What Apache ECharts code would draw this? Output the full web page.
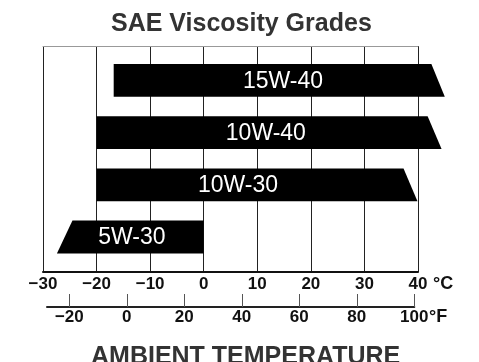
<!DOCTYPE html>
<html>
<head>
<meta charset="utf-8">
<script src="https://cdn.jsdelivr.net/npm/echarts@6/dist/echarts.min.js"></script>
<style>
html,body{margin:0;padding:0;background:#fff;}
#chart{width:479px;height:362px;}
</style>
</head>
<body>
<div id="chart"></div>
<script>
const grades = ['15W-40', '10W-40', '10W-30', '5W-30'];
const lowTop = [-16.8, -20, -20, -24.5];
const lowBottom = [-16.8, -20, -20, -27.4];
const highTop = [42.5, 41.8, 37.3, 0];
const highBottom = [45, 44.4, 39.9, 0];
const labelAt = [14.8, 11.6, 6.4, -13.4];
const celsiusTicks = [-30, -20, -10, 0, 10, 20, 30, 40];
const fahrenheitTicks = [-20, 0, 20, 40, 60, 80, 100];

const fmt = v => (v < 0 ? '\u2212' + Math.abs(v) : String(v));
const FONT = 'Liberation Sans, Arial, Helvetica, sans-serif';

const data = grades.map((g, i) => [i, lowTop[i], lowBottom[i], highTop[i], highBottom[i], labelAt[i], g]);

const chart = echarts.init(document.getElementById('chart'), null, {renderer: 'canvas'});
chart.setOption({
  animation: false,
  backgroundColor: '#fff',
  title: [
    {text: 'SAE Viscosity Grades', left: 111, top: 12, padding: 0,
     textStyle: {fontFamily: FONT, fontSize: 25, fontWeight: 'bold', color: '#333'}},
    {text: 'AMBIENT TEMPERATURE', left: 91, top: 345, padding: 0,
     textStyle: {fontFamily: FONT, fontSize: 25, fontWeight: 'bold', color: '#333'}}
  ],
  grid: [
    {left: 43, right: 61, top: 46, bottom: 90},
    {left: 47, right: 64.7, top: 293, height: 14}
  ],
  xAxis: [
    {type: 'value', gridIndex: 0, min: -30, max: 40, interval: 10, position: 'bottom',
     axisLine: {show: true, onZero: false, lineStyle: {color: '#111', width: 2}},
     axisTick: {show: false},
     axisLabel: {show: true, margin: 4, formatter: fmt,
       customValues: celsiusTicks,
       fontFamily: FONT, fontSize: 17, fontWeight: 'bold', color: '#111'},
     splitLine: {show: true, lineStyle: {color: '#222', width: 1}}},
    {type: 'value', gridIndex: 0, min: -30, max: 40, interval: 10, position: 'top',
     axisLine: {show: true, onZero: false, lineStyle: {color: '#999', width: 1}},
     axisTick: {show: false}, axisLabel: {show: false}, splitLine: {show: false}},
    {type: 'value', gridIndex: 1, min: -27.76, max: 100, position: 'bottom',
     axisLine: {show: true, onZero: false, lineStyle: {color: '#222', width: 2}},
     axisTick: {show: true, inside: true, length: 13, customValues: fahrenheitTicks,
       lineStyle: {color: '#555', width: 1}},
     axisLabel: {show: true, margin: 2, formatter: fmt, customValues: fahrenheitTicks,
       fontFamily: FONT, fontSize: 17, fontWeight: 'bold', color: '#111'},
     splitLine: {show: false}}
  ],
  yAxis: [
    {type: 'value', gridIndex: 0, min: -0.657, max: 3.67, inverse: true, show: false},
    {type: 'value', gridIndex: 1, show: false}
  ],
  graphic: [
    {type: 'text', left: 433, top: 275, style: {text: '°C', font: 'bold 18px ' + FONT, fill: '#111'}},
    {type: 'text', left: 429, top: 308, style: {text: '°F', font: 'bold 18px ' + FONT, fill: '#111'}}
  ],
  series: [{
    type: 'custom',
    xAxisIndex: 0, yAxisIndex: 0,
    clip: false,
    data: data,
    encode: {x: [1, 2, 3, 4], y: 0},
    renderItem: function (params, api) {
      const i = api.value(0);
      const yc = api.coord([0, i])[1];
      const half = 16.4;
      const yT = yc - half, yB = yc + half;
      const xLT = api.coord([api.value(1), i])[0];
      const xLB = api.coord([api.value(2), i])[0];
      const xHT = api.coord([api.value(3), i])[0];
      const xHB = api.coord([api.value(4), i])[0];
      const xL = api.coord([api.value(5), i])[0];
      return {
        type: 'group',
        children: [
          {type: 'polygon', shape: {points: [[xLT, yT], [xHT, yT], [xHB, yB], [xLB, yB]]},
           style: {fill: '#000'}},
          {type: 'text', style: {text: grades[i], x: xL, y: yc + 1, align: 'center', verticalAlign: 'middle',
             font: '23px ' + FONT, fill: '#fff'}}
        ]
      };
    }
  }]
});
</script>
</body>
</html>
